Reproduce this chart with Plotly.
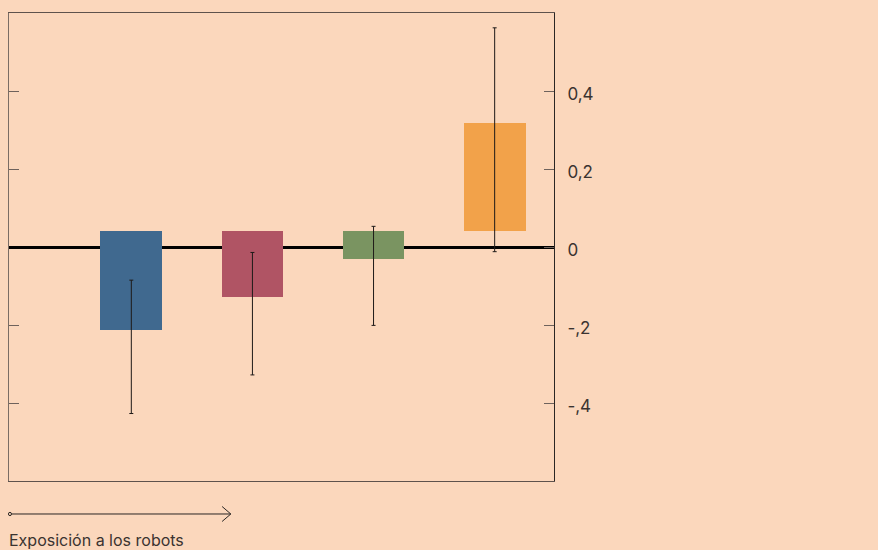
import plotly.graph_objects as go

# Exposure groups (left to right: increasing exposure to robots)
categories = ["Q1", "Q2", "Q3", "Q4"]
effects = [-0.256, -0.171, -0.074, 0.275]
errors = [0.171, 0.157, 0.127, 0.287]
bar_base = 0.042
bar_colors = ["#40698f", "#b05464", "#7a9461", "#f2a24a"]

tick_vals = [-0.4, -0.2, 0, 0.2, 0.4]
tick_text = ["-,4", "-,2", "0", "0,2", "0,4"]

BG = "#fbd7bc"
FONT = "Inter, Roboto, Arial, sans-serif"

fig = go.Figure()

fig.add_trace(go.Bar(
    x=categories, y=effects, base=bar_base,
    marker=dict(color=bar_colors, line=dict(width=0)),
    width=0.51, hoverinfo="skip", showlegend=False,
))

fig.add_trace(go.Scatter(
    x=categories, y=effects, mode="markers",
    marker=dict(size=1, opacity=0),
    error_y=dict(type="data", array=errors, visible=True,
                 color="#1e1a18", thickness=1, width=2),
    hoverinfo="skip", showlegend=False,
))

# invisible trace so the left-hand axis is drawn
fig.add_trace(go.Scatter(x=categories[:1], y=[0], yaxis="y2", mode="markers",
                         marker=dict(opacity=0), hoverinfo="skip", showlegend=False))

fig.update_layout(
    width=878, height=550,
    margin=dict(l=9, r=324, t=13, b=69),
    paper_bgcolor=BG, plot_bgcolor=BG,
    font=dict(family=FONT, size=16, color="#3a3330"),
    xaxis=dict(type="category", range=[-1.01, 3.49], showticklabels=False,
               ticks="", showgrid=False, zeroline=False,
               showline=True, mirror=True, linecolor="#5e524c", linewidth=1),
    yaxis=dict(side="right", range=[-0.6, 0.6], tickvals=tick_vals, ticktext=tick_text,
               ticks="inside", ticklen=10, tickcolor="#6e625c", tickwidth=1,
               showgrid=False, zeroline=True, zerolinecolor="#000000", zerolinewidth=3,
               showline=True, linecolor="#2a2624", linewidth=1,
               ticklabelstandoff=9, ticklabelshift=3,
               tickfont=dict(family=FONT, size=17, color="#3a3330")),
    yaxis2=dict(overlaying="y", side="left", range=[-0.6, 0.6],
                tickvals=[-0.4, -0.2, 0.2, 0.4], showticklabels=False,
                ticks="inside", ticklen=10, tickcolor="#6e625c", tickwidth=1,
                showgrid=False, zeroline=False,
                showline=True, linecolor="#7a6c64", linewidth=1),
    bargap=0,
)

# exposure arrow below the plot
ay = -0.0705
fig.add_shape(type="line", xref="paper", yref="paper",
              x0=0.0018, x1=0.407, y0=ay, y1=ay,
              line=dict(color="#2a2624", width=1))
fig.add_shape(type="path", xref="paper", yref="paper",
              path=f"M 0.391 {ay + 0.016} L 0.407 {ay} L 0.391 {ay - 0.016}",
              line=dict(color="#2a2624", width=1))
fig.add_shape(type="circle", xref="paper", yref="paper",
              x0=-0.001, x1=0.0045, y0=ay - 0.0035, y1=ay + 0.0035,
              line=dict(color="#2a2624", width=1), fillcolor=BG)

fig.add_annotation(text="Exposición a los robots", xref="paper", yref="paper",
                   x=-0.003, y=-0.125, xanchor="left", yanchor="middle", showarrow=False,
                   font=dict(family=FONT, size=16, color="#3a3330"))

fig.write_html("out.html")
